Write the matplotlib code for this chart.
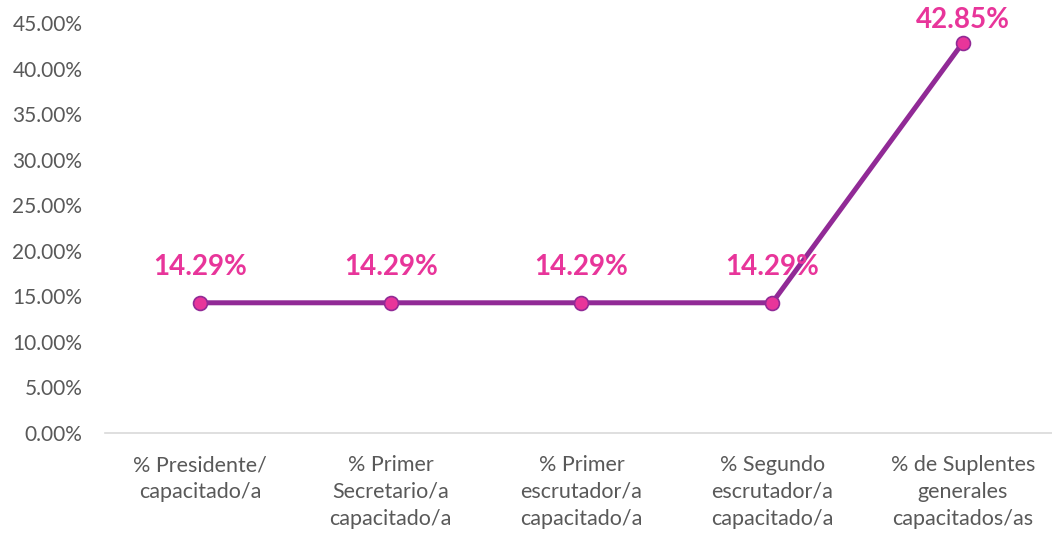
import numpy as np
import matplotlib.pyplot as plt
from matplotlib.ticker import FuncFormatter

plt.rcParams['font.family'] = ['Lato', 'DejaVu Sans']

categorias = ['% Presidente/\ncapacitado/a',
              '% Primer\nSecretario/a\ncapacitado/a',
              '% Primer\nescrutador/a\ncapacitado/a',
              '% Segundo\nescrutador/a\ncapacitado/a',
              '% de Suplentes\ngenerales\ncapacitados/as']
valores = [0.1429, 0.1429, 0.1429, 0.1429, 0.4285]
etiquetas = ['14.29%', '14.29%', '14.29%', '14.29%', '42.85%']

fig = plt.figure(figsize=(10.52, 5.36), dpi=100)
ax = fig.add_axes([0.0994, 0.1922, 0.9066, 0.7649])

x = np.arange(len(valores))
ax.plot(x, valores, color='#912A96', lw=3.6, marker='o', markersize=10,
        markerfacecolor='#E8359A', markeredgecolor='#912A96', markeredgewidth=1.2,
        zorder=3)

for xi, v, t in zip(x, valores, etiquetas):
    # the top label is pushed down to stay inside the chart area
    off = 16 if v > 0.4 else 26
    ax.annotate(t, (xi, v), xytext=(0, off), textcoords='offset points',
                ha='center', va='center', fontsize=20, fontweight='bold',
                color='#E8359A')

ax.set_xlim(-0.5, len(valores) - 0.5)
ax.set_ylim(0, 0.45)
ax.set_yticks(np.arange(0, 0.451, 0.05))
ax.yaxis.set_major_formatter(FuncFormatter(lambda v, p: f'{v*100:.2f}%'))
ax.set_xticks(x)
ax.set_xticklabels(categorias, linespacing=1.42, fontsize=15.5)

for s in ['top', 'right', 'left']:
    ax.spines[s].set_visible(False)
ax.spines['bottom'].set_color('#D9D9D9')
ax.spines['bottom'].set_linewidth(1.2)
ax.tick_params(axis='both', length=0, colors='#595959')
ax.tick_params(axis='y', labelsize=15, pad=16)
ax.tick_params(axis='x', pad=16)

fig.savefig('out.png', dpi=100)
